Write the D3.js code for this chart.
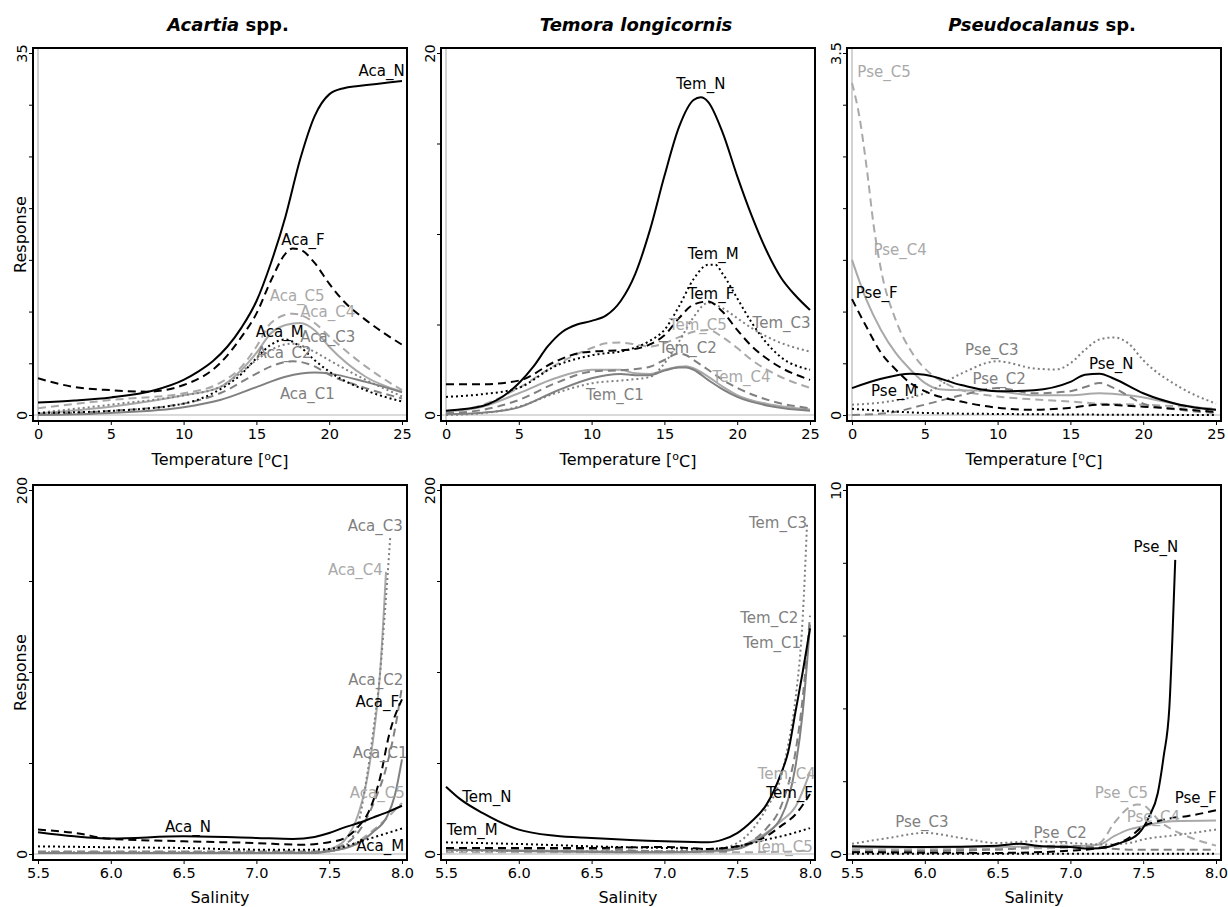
<!DOCTYPE html>
<html>
<head>
<meta charset="utf-8">
<script src="https://cdn.jsdelivr.net/npm/d3@7"></script>
<style>
  body { margin: 0; background: #fff; }
  text { font-family: "DejaVu Sans", Verdana, sans-serif; }
</style>
</head>
<body>
<script>
// stages drawn in every panel, in drawing order
const stages = ['C5', 'C4', 'C3', 'C2', 'C1', 'M', 'F', 'N'];

// ---- Temperature responses: [temperature, response]
const acartiaTemp = {
  N: [[0,1.2],[2.5,1.4],[5,1.7],[8,2.4],[10,3.4],[11,4.2],[12,5.2],[13,6.6],[14,8.5],[15,11],[16,14.7],[17,19.2],[18,24.7],[19,28.9],[20,31],[21,31.6],[22,31.8],[25,32.3]],
  F: [[0,3.55],[2.5,2.7],[5,2.4],[7.5,2.26],[10,2.9],[12.5,5.0],[14,7.6],[15,9.8],[16,13],[17,15.6],[17.5,16.1],[18,16],[19,14.7],[20,12.7],[21,11],[22.5,9.2],[25,6.8]],
  M: [[0,0.2],[5,0.4],[10,1.1],[12,2.1],[14,4],[15,5.5],[16,6.8],[17,7.3],[18,6.6],[19,5.3],[20,4.2],[22.5,2.4],[25,1.3]],
  C1: [[0,0],[5,0.2],[10,0.75],[12.5,1.45],[15,2.7],[17,3.7],[19,4.1],[20,4.0],[22.5,3.2],[25,2.2]],
  C2: [[0,0.1],[5,0.4],[10,1.1],[12.5,2.1],[15,4],[16,4.7],[17.5,5.2],[19,4.7],[20,3.9],[22.5,2.6],[25,1.6]],
  C3: [[0,0.2],[5,1.0],[10,1.9],[12.5,2.7],[15,5.3],[16,6.3],[17.5,6.9],[19,6.1],[20,5.3],[22.5,3.4],[25,1.8]],
  C4: [[0,0.15],[5,0.8],[10,1.9],[12.5,2.7],[14,4.4],[15,6],[16,7.9],[17,8.7],[18,8.9],[19,8.2],[20,6.6],[22.5,3.7],[25,2.26]],
  C5: [[0,0.65],[5,1.45],[10,2.1],[12.5,3.1],[14,4.7],[15,6.6],[16,8.9],[17.5,9.8],[19,8.9],[20,7.6],[22.5,4.7],[25,2.4]]
};
const temoraTemp = {
  N: [[0,0.24],[2.5,0.5],[5,1.75],[6,2.67],[7,3.8],[8,4.6],[9,5.0],[10,5.2],[11,5.5],[12,6.3],[13,7.8],[14,10.2],[15,13.2],[16,15.9],[17,17.4],[17.5,17.55],[18,17.3],[19,15.6],[20,13.2],[21,11],[22,9.1],[23,7.6],[24,6.6],[25,5.8]],
  M: [[0,1.0],[2.5,1.15],[5,1.5],[7.5,2.7],[10,3.3],[12.5,3.6],[14,4.1],[15,4.7],[16,6],[17,7.5],[18,8.3],[18.5,8.3],[19,7.8],[20,6.45],[21,5.1],[22,4],[23,3.2],[25,2.5]],
  F: [[0,1.7],[2.5,1.7],[5,1.9],[7.5,2.95],[9,3.4],[10,3.5],[12.5,3.6],[14,3.9],[15,4.4],[16,5.35],[17,6.1],[18,6.27],[19,5.7],[20,4.7],[21,3.8],[22.5,2.86],[25,1.94]],
  C1: [[0,0.04],[2.5,0.13],[5,0.42],[7.5,1.3],[10,2.03],[11,2.2],[12,2.27],[13,2.2],[14,2.2],[15,2.45],[16,2.62],[16.5,2.62],[17,2.5],[18,1.94],[19,1.42],[20,1.0],[22.5,0.46],[25,0.24]],
  C2: [[0,0.1],[2.5,0.28],[5,0.83],[7.5,1.75],[10,2.4],[12.5,2.5],[14,2.67],[15,3.04],[16,3.4],[16.5,3.3],[17,3.04],[18,2.5],[19,1.94],[20,1.5],[22.5,0.74],[25,0.37]],
  C3: [[0,0],[2.5,0.1],[5,0.46],[7.5,1.2],[10,1.75],[12.5,1.94],[14,2.1],[15,2.85],[16,4.05],[17,5.4],[18,6.2],[19,5.9],[20,5.35],[21,4.8],[22.5,4.15],[25,3.5]],
  C4: [[0,0.2],[2.5,0.46],[5,1.2],[7.5,2.03],[10,2.5],[12,2.5],[13,2.3],[14,2.27],[15,2.5],[16,2.67],[16.5,2.7],[17,2.58],[18,2.12],[19,1.57],[20,1.1],[22.5,0.55],[25,0.3]],
  C5: [[0,0.2],[2.5,0.55],[5,1.5],[7.5,2.75],[10,3.7],[11,3.96],[12,4.0],[13,3.9],[14,3.78],[15,3.96],[16,4.3],[17,4.6],[18,4.7],[19,4.3],[20,3.7],[21,3.04],[22.5,2.3],[25,1.5]]
};
const pseudoTemp = {
  N: [[0,0.26],[2,0.35],[4,0.4],[5,0.39],[7.5,0.29],[10,0.23],[12.5,0.24],[15,0.32],[16,0.39],[17,0.4],[18,0.35],[20,0.21],[22.5,0.1],[25,0.05]],
  F: [[0,1.12],[1,0.85],[2,0.6],[3,0.44],[4,0.31],[5,0.23],[7.5,0.13],[10,0.07],[12.5,0.05],[15,0.07],[17,0.1],[20,0.08],[25,0.03]],
  M: [[0,0.06],[5,0.02],[10,0.01],[25,0]],
  C2: [[0,0],[2.5,0.02],[5,0.1],[7.5,0.19],[10,0.26],[12.5,0.21],[15,0.23],[16,0.27],[17,0.31],[18,0.26],[20,0.11],[22.5,0.05],[25,0.02]],
  C3: [[0,0.1],[2.5,0.13],[5,0.21],[7.5,0.4],[10,0.52],[12.5,0.45],[14,0.44],[15,0.5],[16,0.63],[17,0.73],[18,0.75],[19,0.69],[20,0.53],[22.5,0.27],[25,0.11]],
  C4: [[0,1.5],[1,1.11],[2,0.82],[3,0.6],[4,0.44],[5,0.31],[6,0.25],[7.5,0.24],[10,0.23],[12.5,0.19],[15,0.19],[17,0.21],[19,0.19],[22.5,0.1],[25,0.05]],
  C5: [[0,3.21],[0.5,2.89],[1,2.4],[1.5,1.82],[2,1.4],[3,0.92],[4,0.63],[5,0.45],[6,0.34],[7.5,0.24],[10,0.18],[12.5,0.15],[15,0.13],[17,0.11],[20,0.1],[25,0.06]]
};

// ---- Salinity responses: [salinity, response]
const acartiaSal = {
  N: [[5.5,12],[5.75,9.7],[6,8.5],[6.5,9.7],[7,8.8],[7.25,8.3],[7.4,9.4],[7.5,11.5],[7.6,14.5],[7.7,17],[7.8,20],[7.9,23],[8,26.5]],
  F: [[5.5,13.4],[5.75,11.6],[6,8.3],[6.5,7],[7,6],[7.3,5.1],[7.5,6.5],[7.6,8.5],[7.7,15],[7.77,23],[7.85,42],[7.91,65],[8,85]],
  M: [[5.5,4.2],[6,3.7],[6.5,3.3],[7,2.4],[7.4,2.4],[7.5,2.8],[7.6,4],[7.7,6.5],[7.8,9],[7.9,11.5],[8,14]],
  C1: [[5.5,0.5],[7.4,0.5],[7.5,1.5],[7.6,3],[7.7,6],[7.8,12],[7.9,21],[7.95,32],[8,52]],
  C2: [[5.5,1],[7.4,1],[7.5,2],[7.6,5],[7.7,12],[7.8,27],[7.9,50],[7.95,68],[8,92]],
  C3: [[5.5,1],[7.3,1],[7.5,1.5],[7.6,4],[7.7,17],[7.75,38],[7.8,66],[7.85,100],[7.88,130],[7.92,175]],
  C4: [[5.5,0.5],[7.4,0.8],[7.5,2.5],[7.6,7],[7.7,22],[7.75,37],[7.8,62],[7.85,100],[7.89,155]],
  C5: [[5.5,1.5],[7.4,1.5],[7.5,2.5],[7.6,3],[7.7,7],[7.8,13],[7.9,20],[8,28]]
};
const temoraSal = {
  N: [[5.5,37],[5.6,30],[5.75,22.6],[6,13.4],[6.25,10],[6.5,8.8],[7,7],[7.3,6.4],[7.4,7.9],[7.5,11.5],[7.6,18],[7.7,27],[7.8,44],[7.85,56],[7.9,78],[7.95,100],[8,124]],
  M: [[5.5,6.4],[6,5.5],[6.5,4.2],[7,3.3],[7.3,2.8],[7.5,4.2],[7.7,7.9],[7.85,10.7],[8,14.3]],
  F: [[5.5,3.3],[6.5,3.3],[7,3.9],[7.3,2.8],[7.5,4.2],[7.7,9.7],[7.8,15.3],[7.9,21.7],[8,33]],
  C1: [[5.5,2.4],[7,0.9],[7.5,2.8],[7.6,6],[7.7,11],[7.8,20],[7.85,30],[7.9,48],[7.95,78],[8,126]],
  C2: [[5.5,2.8],[6.5,2.6],[7,1.5],[7.4,1.5],[7.5,3.3],[7.6,7],[7.7,14],[7.8,26],[7.85,38],[7.9,56],[7.95,86],[8,131]],
  C3: [[5.5,1.8],[7,1.5],[7.4,3.3],[7.5,6],[7.6,13],[7.7,25],[7.8,42],[7.85,60],[7.9,85],[7.95,130],[7.98,182]],
  C4: [[5.5,2.4],[6.5,1.5],[7,0.9],[7.4,1.5],[7.5,3.3],[7.6,7],[7.7,11.6],[7.8,18],[7.9,26],[8,45]],
  C5: [[5.5,1],[7.5,1],[7.8,1.2],[8,2]]
};
const pseudoSal = {
  N: [[5.5,0.21],[6,0.19],[6.5,0.23],[6.65,0.28],[6.8,0.21],[7,0.19],[7.1,0.15],[7.2,0.16],[7.34,0.3],[7.47,0.57],[7.54,1.02],[7.6,1.67],[7.64,2.67],[7.68,4.05],[7.7,5.88],[7.72,8.08]],
  F: [[5.5,0.05],[6.5,0.03],[7,0.09],[7.2,0.17],[7.4,0.44],[7.5,0.76],[7.6,0.9],[7.7,0.99],[7.8,1.04],[8,1.2]],
  M: [[5.5,0.01],[8,0.01]],
  C2: [[5.5,0.07],[6.5,0.12],[6.8,0.21],[7,0.23],[7.2,0.17],[7.4,0.12],[7.6,0.12],[8,0.12]],
  C3: [[5.5,0.28],[5.75,0.44],[6,0.58],[6.25,0.44],[6.5,0.3],[6.75,0.35],[7,0.3],[7.25,0.26],[7.4,0.3],[7.5,0.4],[7.75,0.53],[8,0.67]],
  C4: [[5.5,0.17],[7,0.21],[7.2,0.26],[7.3,0.49],[7.4,0.67],[7.5,0.76],[7.6,0.85],[7.7,0.9],[8,0.92]],
  C5: [[5.5,0.12],[7,0.17],[7.2,0.3],[7.3,0.85],[7.4,1.27],[7.46,1.36],[7.5,1.34],[7.55,1.18],[7.6,0.95],[7.7,0.67],[7.8,0.49],[8,0.23]]
};

// curve labels: [stage, x, y] in data units (text centre)
const acartiaTempLabels = [['N',23.6,33.3],['F',18.2,17],['C5',17.8,11.5],['C4',19.9,10],['M',16.6,8.1],['C3',19.9,7.6],['C2',16.9,6.0],['C1',18.5,2.1]];
const temoraTempLabels = [['N',17.5,18.3],['M',18.35,8.9],['F',18.2,6.7],['C5',17.3,5.0],['C3',23.05,5.1],['C2',16.6,3.7],['C4',20.3,2.1],['C1',11.6,1.1]];
const pseudoTempLabels = [['C5',2.2,3.32],['C4',3.3,1.6],['F',1.7,1.18],['C3',9.6,0.63],['C2',10.1,0.35],['N',17.8,0.5],['M',2.9,0.24]];
const acartiaSalLabels = [['C3',7.816,180.7],['C4',7.68,156],['C2',7.82,96],['F',7.83,84],['C1',7.85,55.7],['C5',7.83,33.6],['N',6.53,15.3],['M',7.85,4.6]];
const temoraSalLabels = [['C3',7.78,182],['C2',7.72,130],['C1',7.74,116],['C4',7.84,44],['F',7.86,33.6],['C5',7.82,3.9],['N',5.78,31.4],['M',5.68,13.4]];
const pseudoSalLabels = [['N',7.587,8.44],['F',7.86,1.54],['C5',7.35,1.70],['C4',7.57,1.04],['C3',5.98,0.9],['C2',6.93,0.58]];

const tempTicks = [0, 5, 10, 15, 20, 25];
const salTicks = [5.5, 6.0, 6.5, 7.0, 7.5, 8.0];

const species = [
  { genus: 'Acartia', rest: ' spp.', prefix: 'Aca' },
  { genus: 'Temora longicornis', rest: '', prefix: 'Tem' },
  { genus: 'Pseudocalanus', rest: ' sp.', prefix: 'Pse' }
];

const panels = [
  { col: 0, row: 0, data: acartiaTemp, labels: acartiaTempLabels, yMax: 35, yStep: 5 },
  { col: 1, row: 0, data: temoraTemp, labels: temoraTempLabels, yMax: 20, yStep: 5 },
  { col: 2, row: 0, data: pseudoTemp, labels: pseudoTempLabels, yMax: 3.5, yStep: 0.5 },
  { col: 0, row: 1, data: acartiaSal, labels: acartiaSalLabels, yMax: 200, yStep: 50 },
  { col: 1, row: 1, data: temoraSal, labels: temoraSalLabels, yMax: 200, yStep: 50 },
  { col: 2, row: 1, data: pseudoSal, labels: pseudoSalLabels, yMax: 10, yStep: 2 }
];

const grey = '#808080', light = '#a9a9a9';
const stageStyle = {
  N: { color: '#000', dash: null },
  F: { color: '#000', dash: '8,5' },
  M: { color: '#000', dash: '2,3' },
  C1: { color: grey, dash: null },
  C2: { color: grey, dash: '8,5' },
  C3: { color: grey, dash: '2,3' },
  C4: { color: light, dash: null },
  C5: { color: light, dash: '8,5' }
};

const colLeft = [33, 441, 847], boxW = 374;
const rowTop = [48, 485], boxH = [373, 375];

const svg = d3.select('body').append('svg')
  .attr('width', 1228).attr('height', 907);

panels.forEach((p, pi) => {
  const L = colLeft[p.col], T = rowTop[p.row], W = boxW, H = boxH[p.row];
  const isTemp = p.row === 0;
  const x = d3.scaleLinear().domain(isTemp ? [0, 25] : [5.5, 8]).range([L + 5, L + W - 5]);
  const y = d3.scaleLinear().domain([0, p.yMax]).range([T + H - 6, T + 5]);
  const sp = species[p.col];
  const g = svg.append('g');

  g.append('clipPath').attr('id', `clip${pi}`)
    .append('rect').attr('x', L).attr('y', T).attr('width', W).attr('height', H);

  // reference lines
  g.append('line')
    .attr('x1', L).attr('x2', L + W).attr('y1', y(0)).attr('y2', y(0))
    .attr('stroke', '#b5b5b5').attr('stroke-width', 1.2);
  if (isTemp) {
    g.append('line')
      .attr('x1', x(0)).attr('x2', x(0)).attr('y1', T).attr('y2', T + H)
      .attr('stroke', '#b5b5b5').attr('stroke-width', 1.2);
  }

  const line = d3.line()
    .x(d => x(d[0]))
    .y(d => y(d[1]))
    .curve(d3.curveMonotoneX);

  const curves = g.append('g').attr('clip-path', `url(#clip${pi})`);
  stages.filter(s => p.data[s]).forEach(s => {
    curves.append('path')
      .datum(p.data[s])
      .attr('d', line)
      .attr('fill', 'none')
      .attr('stroke', stageStyle[s].color)
      .attr('stroke-width', 2)
      .attr('stroke-dasharray', stageStyle[s].dash);
  });

  g.selectAll('text.lab').data(p.labels).enter()
    .append('text')
      .attr('class', 'lab')
      .attr('x', d => x(d[1]))
      .attr('y', d => y(d[2]))
      .attr('dy', '0.36em')
      .attr('text-anchor', 'middle')
      .style('font-size', '15px')
      .attr('fill', d => stageStyle[d[0]].color)
      .text(d => `${sp.prefix}_${d[0]}`);

  g.append('rect')
    .attr('x', L).attr('y', T).attr('width', W).attr('height', H)
    .attr('fill', 'none').attr('stroke', '#000').attr('stroke-width', 2);

  // x axis
  const xAxis = g.append('g')
    .attr('transform', `translate(0,${T + H})`)
    .call(d3.axisBottom(x)
      .tickValues(isTemp ? tempTicks : salTicks)
      .tickSize(4).tickPadding(4)
      .tickFormat(isTemp ? d3.format('d') : d3.format('.1f')));
  xAxis.select('.domain').remove();
  xAxis.selectAll('text').style('font-size', '14.5px').attr('fill', '#000');

  // y axis, labels only at the ends
  const fmt = d3.format('~g');
  const yAxis = g.append('g')
    .attr('transform', `translate(${L},0)`)
    .call(d3.axisLeft(y)
      .tickValues(d3.range(0, p.yMax + p.yStep / 2, p.yStep))
      .tickSize(4)
      .tickFormat(v => (Math.abs(v) < 1e-9 || Math.abs(v - p.yMax) < 1e-9) ? fmt(v) : ''));
  yAxis.select('.domain').remove();
  yAxis.selectAll('text')
    .attr('x', null).attr('dy', null)
    .attr('transform', 'translate(-6,0) rotate(-90)')
    .attr('text-anchor', 'middle')
    .style('font-size', '14.5px')
    .attr('fill', '#000');

  // axis titles
  const xt = g.append('text')
    .attr('x', L + W / 2).attr('y', T + H + (isTemp ? 44 : 43))
    .attr('text-anchor', 'middle')
    .style('font-size', '16px');
  if (isTemp) {
    xt.append('tspan').text('Temperature [');
    xt.append('tspan').attr('dy', '-0.45em').style('font-size', '11px').text('o');
    xt.append('tspan').attr('dy', '0.45em').text('C]');
  } else {
    xt.text('Salinity');
  }

  if (p.col === 0) {
    g.append('text')
      .attr('transform', `translate(26,${T + H / 2}) rotate(-90)`)
      .attr('text-anchor', 'middle')
      .style('font-size', '16px')
      .text('Response');
  }

  if (p.row === 0) {
    const tt = g.append('text')
      .attr('x', L + W / 2 + 8).attr('y', 31)
      .attr('text-anchor', 'middle')
      .style('font-size', '18px')
      .style('font-weight', 'bold');
    tt.append('tspan').style('font-style', 'italic').text(sp.genus);
    tt.append('tspan').text(sp.rest);
  }
});
</script>
</body>
</html>
